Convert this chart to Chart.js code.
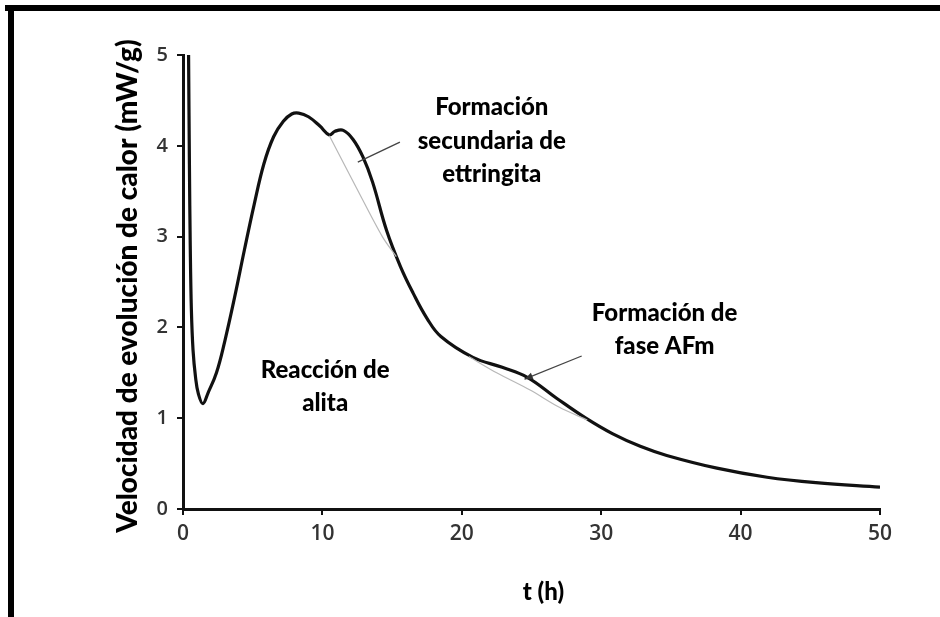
<!DOCTYPE html>
<html>
<head>
<meta charset="utf-8">
<script src="https://cdn.jsdelivr.net/npm/chart.js@4"></script>
<style>
  html, body { margin: 0; padding: 0; background: #fff; }
  #wrap { width: 940px; height: 617px; }
</style>
</head>
<body>
<div id="wrap"><canvas id="chart" width="940" height="617"></canvas></div>
<script>
// curva de calorimetría (t en h, mW/g)
const tiempo = [0.4, 0.46, 0.52, 0.6, 0.72, 0.9, 1.1, 1.43, 1.8, 2.4, 3.0, 3.7, 4.4, 5.1, 5.8, 6.5, 7.2, 7.8, 8.3, 9.0, 9.8, 10.5, 10.9, 11.5, 12.2, 12.9, 13.6, 14.6, 15.6, 16.5, 17.5, 18.5, 20.8, 22.9, 24.7, 26.8, 28.9, 30.8, 32.8, 34.7, 38.3, 41.9, 45.4, 50]
const calor = [5.0, 3.8, 2.9, 2.2, 1.75, 1.45, 1.27, 1.16, 1.28, 1.5, 1.85, 2.33, 2.85, 3.35, 3.8, 4.1, 4.27, 4.35, 4.36, 4.32, 4.22, 4.12, 4.16, 4.17, 4.07, 3.88, 3.6, 3.07, 2.67, 2.38, 2.1, 1.9, 1.67, 1.56, 1.45, 1.22, 1.0, 0.83, 0.69, 0.59, 0.45, 0.35, 0.29, 0.24]

// líneas base bajo los hombros
const tBase1 = [10.5, 12.4, 14.3, 15.3]
const vBase1 = [4.11, 3.55, 3.0, 2.78]
const tBase2 = [20.5, 22.5, 24.9, 27.0, 29.0]
const vBase2 = [1.68, 1.5, 1.31, 1.12, 0.98]

const ticksX = [0, 10, 20, 30, 40, 50]
const ticksY = [0, 1, 2, 3, 4, 5]

// etiquetas: texto, posición (t, valor)
const etiquetas = [
  { lineas: ['Formación', 'secundaria de', 'ettringita'], t: 22.15, v: 4.42 },
  { lineas: ['Formación de', 'fase AFm'], t: 34.55, v: 2.16 },
  { lineas: ['Reacción de', 'alita'], t: 10.2, v: 1.53 }
]
// flechas: desde (t0, v0) hasta (t1, v1)
const flechas = [
  { t0: 15.56, v0: 4.04, t1: 12.54, v1: 3.82, punta: false },
  { t0: 28.6, v0: 1.685, t1: 24.5, v1: 1.43, punta: true }
]

const puntos = (xs, ys) => xs.map((x, i) => ({ x: x, y: ys[i] }))

const FUENTE = 'Lato, "Open Sans", sans-serif'

const decoracion = {
  id: 'decoracion',
  beforeDraw(chart) {
    const c = chart.ctx
    c.save()
    c.fillStyle = '#fff'
    c.fillRect(0, 0, chart.width, chart.height)
    // marco negro arriba e izquierda
    c.fillStyle = '#000'
    c.fillRect(5, 5, chart.width - 5, 6)
    c.fillRect(8, 5, 6, chart.height - 5)
    c.restore()
  },
  afterDraw(chart) {
    const c = chart.ctx
    const sx = chart.scales.x
    const sy = chart.scales.y
    c.save()

    // flechas
    c.strokeStyle = '#444'
    c.fillStyle = '#333'
    c.lineWidth = 1.3
    flechas.forEach(f => {
      const x0 = sx.getPixelForValue(f.t0), y0 = sy.getPixelForValue(f.v0)
      const x1 = sx.getPixelForValue(f.t1), y1 = sy.getPixelForValue(f.v1)
      c.beginPath()
      c.moveTo(x0, y0)
      c.lineTo(x1, y1)
      c.stroke()
      if (f.punta) {
        const a = Math.atan2(y1 - y0, x1 - x0)
        c.beginPath()
        c.moveTo(x1, y1)
        c.lineTo(x1 - 9 * Math.cos(a - 0.4), y1 - 9 * Math.sin(a - 0.4))
        c.lineTo(x1 - 9 * Math.cos(a + 0.4), y1 - 9 * Math.sin(a + 0.4))
        c.closePath()
        c.fill()
      }
    })

    // textos
    c.fillStyle = '#000'
    c.font = '900 24px ' + FUENTE
    c.textAlign = 'center'
    c.textBaseline = 'middle'
    etiquetas.forEach(e => {
      const x = sx.getPixelForValue(e.t)
      const y = sy.getPixelForValue(e.v)
      e.lineas.forEach((l, i) => c.fillText(l, x, y + i * 33.5))
    })

    // títulos de ejes
    c.fillText('t (h)', (sx.left + sx.right) / 2 + 12, 592)
    c.translate(128, 286)
    c.rotate(-Math.PI / 2)
    c.font = '900 28px ' + FUENTE
    c.fillText('Velocidad de evolución de calor (mW/g)', 0, 0)
    c.restore()
  }
}

new Chart(document.getElementById('chart'), {
  type: 'line',
  data: {
    datasets: [
      {
        data: puntos(tBase1, vBase1),
        borderColor: '#b8b8b8',
        borderWidth: 1.2,
        pointRadius: 0,
        tension: 0.3
      },
      {
        data: puntos(tBase2, vBase2),
        borderColor: '#b8b8b8',
        borderWidth: 1.2,
        pointRadius: 0,
        tension: 0.3
      },
      {
        data: puntos(tiempo, calor),
        borderColor: '#111',
        borderWidth: 3.2,
        pointRadius: 0,
        tension: 0.4
      }
    ]
  },
  options: {
    responsive: false,
    animation: false,
    devicePixelRatio: 1,
    layout: { padding: { top: 55, right: 60, left: 0, bottom: 0 } },
    plugins: { legend: { display: false }, tooltip: { enabled: false } },
    scales: {
      x: {
        type: 'linear',
        min: 0,
        max: 50,
        afterBuildTicks: s => { s.ticks = ticksX.map(v => ({ value: v })) },
        ticks: { color: '#333', font: { family: '"Open Sans"', size: 21, weight: '600' }, padding: 6, maxRotation: 0 },
        grid: { drawOnChartArea: false, tickLength: 6, color: '#111', lineWidth: 2 },
        border: { color: '#111', width: 3 },
        afterFit: s => { s.height = 108 }
      },
      y: {
        min: 0,
        max: 5,
        afterBuildTicks: s => { s.ticks = ticksY.map(v => ({ value: v })) },
        ticks: { color: '#333', font: { family: '"Open Sans"', size: 20, weight: '600' }, padding: 9 },
        grid: { drawOnChartArea: false, tickLength: 6, color: '#111', lineWidth: 2 },
        border: { color: '#111', width: 3 },
        afterFit: s => { s.width = 183 }
      }
    }
  },
  plugins: [decoracion]
})
</script>
</body>
</html>
